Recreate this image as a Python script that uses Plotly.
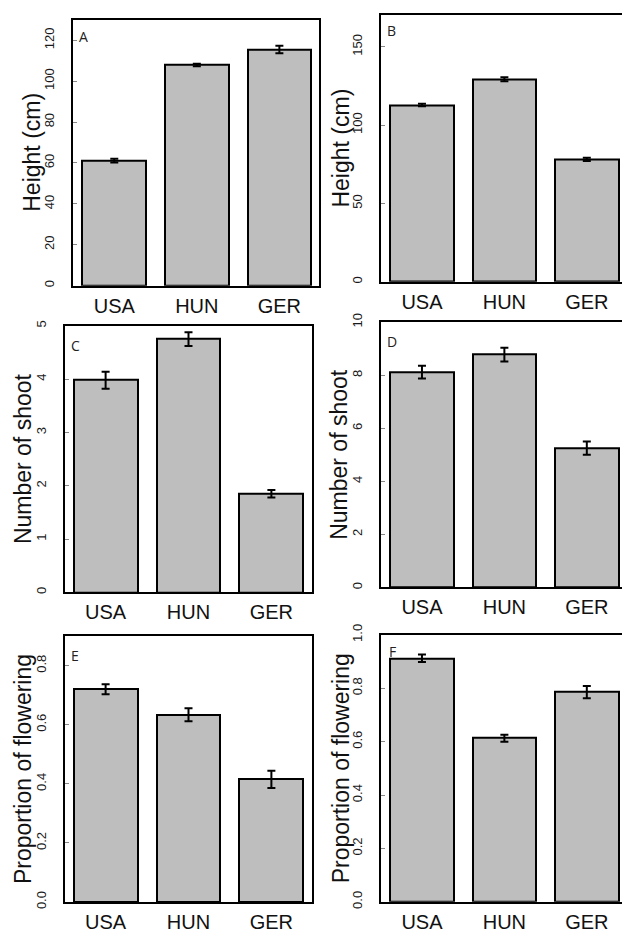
import plotly.graph_objects as go

# ---- data ----
countries = ["USA", "HUN", "GER"]

height_A = [61.1, 107.9, 115.5]
height_A_se = [0.9, 0.6, 1.8]
height_B = [112.8, 129.3, 78.1]
height_B_se = [0.8, 1.3, 1.0]

shoot_C = [3.98, 4.75, 1.85]
shoot_C_se = [0.16, 0.13, 0.07]
shoot_D = [8.12, 8.78, 5.25]
shoot_D_se = [0.24, 0.26, 0.25]

flower_E = [0.720, 0.634, 0.415]
flower_E_se = [0.017, 0.022, 0.029]
flower_F = [0.912, 0.613, 0.785]
flower_F_se = [0.014, 0.013, 0.023]

panel_letters = ["A", "B", "C", "D", "E", "F"]
y_titles = ["Height (cm)", "Height (cm)", "Number of shoot", "Number of shoot",
            "Proportion of flowering", "Proportion of flowering"]
y_ticks = [
    [0, 20, 40, 60, 80, 100, 120],
    [0, 50, 100, 150],
    [0, 1, 2, 3, 4, 5],
    [0, 2, 4, 6, 8, 10],
    [0.0, 0.2, 0.4, 0.6, 0.8],
    [0.0, 0.2, 0.4, 0.6, 0.8, 1.0],
]
y_ranges = [[0, 130], [0, 170], [0, 5], [0, 10], [0, 0.9], [0, 1.0]]
tick_formats = ["", "", "", "", ".1f", ".1f"]

series = [
    (height_A, height_A_se), (height_B, height_B_se),
    (shoot_C, shoot_C_se), (shoot_D, shoot_D_se),
    (flower_E, flower_E_se), (flower_F, flower_F_se),
]

# ---- layout geometry (pixels) ----
W, H = 622, 941
# (left, right, top, bottom) of each plot box in pixels
boxes = [
    (73, 319, 9, 280),
    (381, 622, 4.5, 276),
    (65, 312, 321, 592.7),
    (381, 622, 317.3, 587.7),
    (65, 312, 637.3, 908.4),
    (381, 622, 636, 908.2),
]
x_ranges = [[-0.5, 2.48], [-0.497, 2.427], [-0.49, 2.49],
            [-0.497, 2.427], [-0.49, 2.49], [-0.497, 2.427]]
title_x = [32, 341, 23, 339, 23, 341]
letter_pos = [(83, 26), (391, 20), (75, 341), (392, 337), (75, 657), (392, 653)]

FONT = "Liberation Sans, Arial, sans-serif"

fig = go.Figure()
for i, (vals, se) in enumerate(series):
    n = i + 1
    xa = "x" if n == 1 else f"x{n}"
    ya = "y" if n == 1 else f"y{n}"
    fig.add_trace(go.Bar(
        x=countries, y=vals,
        width=0.77,
        marker=dict(color="#bebebe", line=dict(color="black", width=2)),
        error_y=dict(type="data", array=se, visible=True,
                     color="black", thickness=2, width=4),
        xaxis=xa, yaxis=ya, showlegend=False, hoverinfo="skip",
    ))

    l, r, t, b = boxes[i]
    left_col = (i % 2 == 0)
    xkey = "xaxis" if n == 1 else f"xaxis{n}"
    ykey = "yaxis" if n == 1 else f"yaxis{n}"
    fig.layout[xkey] = dict(
        domain=[l / W, r / W], range=x_ranges[i], anchor=ya,
        showline=True, linecolor="black", linewidth=2, mirror=True,
        showgrid=False, zeroline=False, ticks="",
        tickfont=dict(family=FONT, size=20, color="#111"),
        ticklabelstandoff=1, fixedrange=True,
    )
    fig.layout[ykey] = dict(
        domain=[(H - b) / H, (H - t) / H], range=y_ranges[i], anchor=xa,
        showline=True, linecolor="black", linewidth=2,
        mirror=True if left_col else False,
        showgrid=False, zeroline=False,
        tickvals=y_ticks[i], tickformat=tick_formats[i],
        ticks="inside", ticklen=4, tickcolor="#888", tickwidth=1,
        tickangle=-90, tickfont=dict(family=FONT, size=13, color="#1a1a1a"),
        ticklabelstandoff=12, fixedrange=True,
    )
    fig.add_annotation(
        x=title_x[i] / W, y=(H - (t + b) / 2) / H, xref="paper", yref="paper",
        text=y_titles[i], textangle=-90, showarrow=False,
        xanchor="center", yanchor="middle",
        font=dict(family=FONT, size=23, color="#111"),
    )
    lx, ly = letter_pos[i]
    fig.add_annotation(
        x=lx / W, y=(H - ly) / H, xref="paper", yref="paper",
        text=panel_letters[i], showarrow=False,
        xanchor="center", yanchor="middle",
        font=dict(family="Open Sans, sans-serif", size=14, color="#222"),
    )

fig.update_layout(
    width=W, height=H,
    margin=dict(l=0, r=0, t=0, b=0),
    paper_bgcolor="white", plot_bgcolor="white",
    bargap=0,
)

fig.write_html(
    "out.html",
    config={"displayModeBar": False},
    post_script="document.body.style.margin='0';document.body.style.overflow='hidden';",
)
